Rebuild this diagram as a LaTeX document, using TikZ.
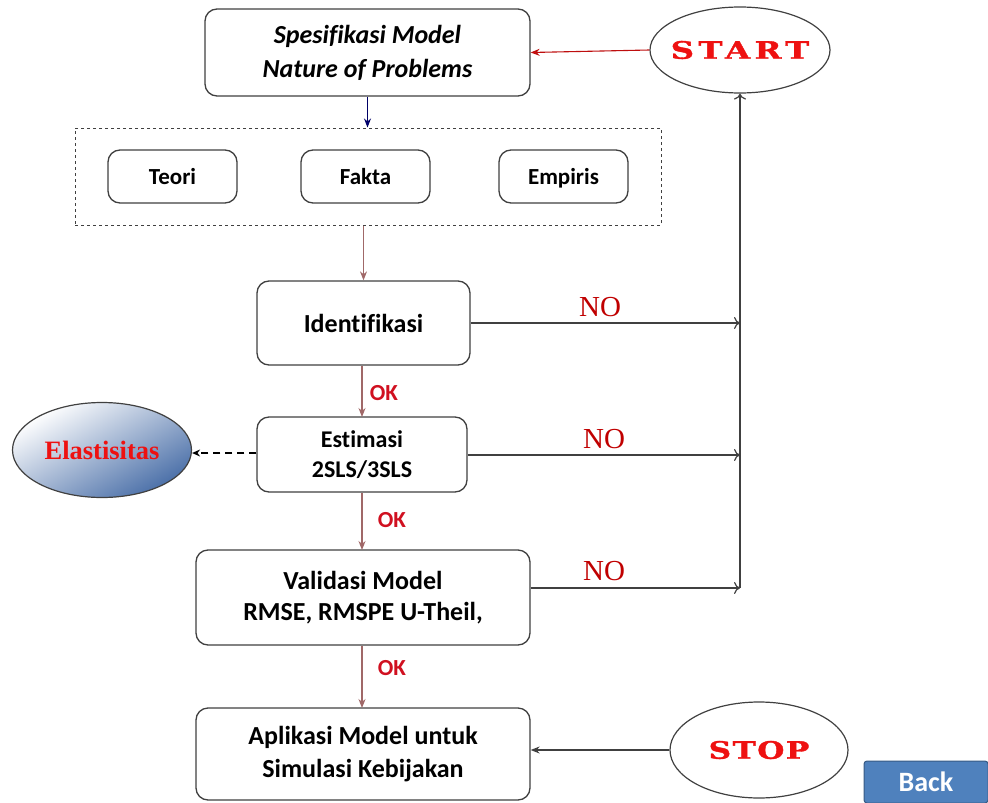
\documentclass[tikz,border=0pt]{standalone}
\usepackage{fontspec}
\setmainfont[Ligatures=CommonOff]{Carlito}
\newfontfamily\timesf{Liberation Serif}
\newfontfamily\wideserif[FakeStretch=1.3,LetterSpace=6,FakeBold=1.5]{DejaVu Serif}
\newfontfamily\widerserif[FakeStretch=1.35,LetterSpace=18,FakeBold=1.5]{DejaVu Serif}
\usetikzlibrary{shapes.geometric,arrows.meta}
\definecolor{boxline}{HTML}{404040}
\definecolor{flowarrow}{HTML}{A06868}
\definecolor{okred}{HTML}{D01020}
\definecolor{nored}{HTML}{C00000}
\definecolor{startred}{HTML}{EE1111}
\definecolor{elblue}{HTML}{4A6FA8}
\definecolor{backblue}{HTML}{4F81BD}
\tikzset{
  x=1pt,y=-1pt,
  rbox/.style={draw=boxline,line width=1.3pt,rounded corners=12pt,fill=white,align=center,inner sep=0pt,font=\bfseries\fontsize{26}{32}\selectfont},
  smallbox/.style={rbox,minimum width=129pt,minimum height=53pt,font=\bfseries\fontsize{23}{26}\selectfont,text height=16pt,text depth=0pt},
  oval/.style={draw=boxline,line width=1.2pt,ellipse,inner sep=0pt},
  flow/.style={draw=flowarrow,line width=1.2pt,-{Stealth[length=9pt,width=7pt]}},
  noarrow/.style={draw=boxline,line width=1.2pt,-{To[length=6pt,width=12pt]}},
  oklab/.style={text=okred,font=\bfseries\fontsize{23}{26}\selectfont,inner sep=0pt},
  nolab/.style={text=nored,font=\timesf\fontsize{29}{30}\selectfont,inner sep=0pt},
  ovaltext/.style={text=startred,font=\wideserif\bfseries\fontsize{24}{26}\selectfont},
}
\begin{document}
\begin{tikzpicture}
\useasboundingbox (0,0) rectangle (988,803);
% main boxes
\node[rbox,minimum width=325pt,minimum height=87pt,font=\bfseries\itshape\fontsize{26}{34}\selectfont] (spes) at (367.5,52.5) {Spesifikasi Model\\Nature of Problems};
\node[draw=boxline,line width=1pt,dashed,minimum width=586pt,minimum height=97pt,inner sep=0pt] (dbox) at (368,176.5) {};
\node[smallbox] (teori) at (172.5,176.5) {Teori};
\node[smallbox] (fakta) at (365.5,176.5) {Fakta};
\node[smallbox] (emp) at (563.5,176.5) {Empiris};
\node[rbox,minimum width=213pt,minimum height=84pt] (ident) at (363.5,323) {Identifikasi};
\node[rbox,minimum width=210pt,minimum height=75pt,font=\bfseries\fontsize{24}{30}\selectfont] (est) at (362,454.5) {Estimasi\\2SLS/3SLS};
\node[rbox,minimum width=334pt,minimum height=95pt,font=\bfseries\fontsize{26}{31}\selectfont] (val) at (363,597.5) {Validasi Model\\RMSE, RMSPE U-Theil,};
\node[rbox,minimum width=334pt,minimum height=92pt,font=\bfseries\fontsize{26}{33}\selectfont] (apl) at (363,754) {Aplikasi Model untuk\\Simulasi Kebijakan};
% ovals
\node[oval,minimum width=180pt,minimum height=86pt,text=startred,font=\widerserif\bfseries\fontsize{24}{26}\selectfont] (start) at (740,50) {\makebox[0pt]{START}};
\node[oval,minimum width=178pt,minimum height=96pt,ovaltext] (stop) at (759,750) {\makebox[0pt]{STOP}};
\node[oval,minimum width=179pt,minimum height=95pt,top color=white,bottom color=elblue,shading angle=30,text=startred,font=\timesf\bfseries\fontsize{26.5}{28}\selectfont] (elas) at (102,450) {\makebox[0pt]{Elastisitas}};
% back button
\node[draw=backblue!70!black,line width=1pt,fill=backblue,rounded corners=3pt,minimum width=124pt,minimum height=42pt,inner sep=0pt,text=white,font=\bfseries\fontsize{28}{30}\selectfont] (back) at (926,782) {Back};
% coordinates
\coordinate (rail) at (740,588);
\coordinate (ra) at (740,323);
\coordinate (rb) at (740,455);
% connectors
\draw[draw=startred!80!black,line width=1.1pt,-{Stealth[length=9pt,width=7pt,fill=startred]}] (start.west) -- (spes.east);
\draw[draw=blue!40!black,line width=1.1pt,-{Stealth[length=9pt,width=7pt,fill=blue!60!black]}] (spes.south) -- (spes.south |- dbox.north);
\draw[flow] (dbox.south -| ident.north) -- (ident.north);
\draw[flow] (ident.south -| 362,0) -- (362,417);
\draw[flow] (est.south -| 362,0) -- (362,550);
\draw[flow] (val.south -| 362,0) -- (362,708);
\draw[noarrow] (ident.east) -- (ra);
\draw[noarrow] (est.east |- rb) -- (rb);
\draw[noarrow] (val.east |- rail) -- (rail);
\draw[noarrow] (rail) -- (start.south);
\draw[line width=1.3pt,dash pattern=on 7pt off 5pt,-{Stealth[length=8pt,width=7pt]}] (est.west |- 0,453) -- (elas.east |- 0,453);
\draw[draw=boxline,line width=1.2pt,-{Stealth[length=9pt,width=7pt]}] (stop.west) -- (apl.east |- stop.west);
% labels
\node[nolab] (no1) at (600,307) {NO};
\node[nolab] (no2) at (604,439) {NO};
\node[nolab] (no3) at (604,571) {NO};
\node[oklab] (ok1) at (384,393) {OK};
\node[oklab] (ok2) at (392,520) {OK};
\node[oklab] (ok3) at (392,668) {OK};
\end{tikzpicture}
\end{document}
